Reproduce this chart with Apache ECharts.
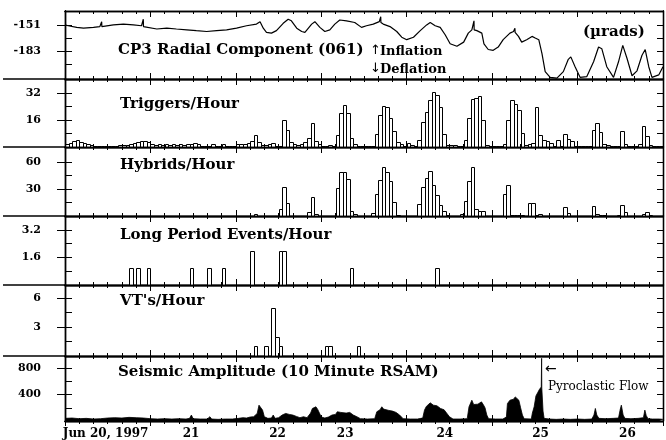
<!DOCTYPE html>
<html><head><meta charset="utf-8">
<script src="https://cdn.jsdelivr.net/npm/echarts@6/dist/echarts.min.js"></script>
<style>
html,body{margin:0;padding:0;background:#fff}
#wrap{position:relative;width:666px;height:440px}
#c,#t{position:absolute;left:0;top:0;width:666px;height:440px}
#t{pointer-events:none}
</style>
</head><body><div id="wrap"><div id="c"></div><div id="t"></div></div>
<script>
// ---------------- DATA (hours since Jun 20, 1997 00:00) ----------------
const dayLabelHours = [11.4, 35.4, 59.7, 78.7, 106.7, 133.6, 158.0];
const dayLabelTexts = ['Jun 20, 1997', '21', '22', '23', '24', '25', '26'];

// CP3 radial tilt (µrad)
const tiltHours = [0,0.9,3.3,5.2,8.0,9.8,10.25,10.3,10.35,10.8,13.6,16.4,19.2,21.5,21.95,22.0,22.05,22.5,25.8,28.6,31.3,34.2,36.9,39.8,42.6,45.4,48.2,51.0,53.8,54.8,55.7,56.6,58.0,59.4,61.3,62.7,63.6,65.1,66.5,67.4,69.3,70.2,71.6,73.0,74.4,75.8,77.2,79.1,81.4,83.3,84.7,86.6,88.3,88.65,88.7,88.75,89.4,91.3,93.2,94.6,96.0,97.9,99.8,101.6,102.6,104.0,105.4,106.8,108.2,110.1,112.0,113.3,114.3,114.85,114.9,114.95,115.7,117.1,117.7,118.9,120.3,121.7,123.1,125.0,126.0,126.35,126.4,126.45,127.4,128.3,129.7,131.2,132.1,133.1,134.0,134.9,136.3,138.2,140.0,141.4,142.1,143.3,144.7,146.6,148.5,149.9,150.8,152.2,154.1,155.5,156.7,157.9,159.3,160.7,162.1,163.0,164.0,164.9,166.8,168];
const tiltValues = [-151,-152,-154,-155,-154,-153,-153,-147,-153,-153,-151,-150,-151,-152,-152,-144,-153,-154,-156,-155,-156,-157,-158,-159,-158,-157,-155,-152,-150,-147,-155,-160,-161,-158,-149,-144,-146,-155,-159,-160,-150,-147,-154,-159,-157,-150,-145,-146,-148,-154,-152,-150,-147,-147,-141,-148,-150,-153,-159,-166,-169,-166,-158,-151,-148,-152,-154,-163,-174,-177,-172,-161,-157,-156,-146,-157,-158,-161,-174,-181,-182,-178,-169,-161,-159,-159,-155,-160,-165,-172,-169,-165,-167,-169,-186,-208,-215,-216,-208,-193,-190,-202,-215,-214,-196,-178,-180,-202,-215,-196,-176,-192,-213,-207,-188,-181,-202,-215,-212,-202];

// Triggers per hour (hour 0..167)
const triggersPerHour = [
 2,2.4,3.6,4.4,3,2.4,1.6,1,0.6,0.8,0.6,0.6,0.8,0.6,0.6,1,1.2,1.4,1.6,2.4,3,3.4,3.4,3,
 1.6,1.2,1.6,1,1.6,1,1.6,1,1.6,1,1.6,2,2.4,1.6,0.6,0.6,0.6,1.6,0.4,0.4,1.6,0.4,0.4,0.6,
 2,2,2,2.4,3.6,7,3,1,1,1.6,2.4,0.6,0.6,16,10.4,3,1.6,1,1.6,3,5.6,14,3.6,1.6,
 0.8,0.8,1,0.8,7,20,25,20,5.6,1.6,0.6,0.4,0.4,0.4,0.4,8,19,24.4,23.6,17,9.6,3,2,0.5,
 2.4,1,0.5,4,14.6,21,28,33,31,24,8,1,1,1,0.5,0.4,4,17,28.4,29,30.6,16,1,0.5,
 0.5,0.4,0.6,2,16,28,25.6,22,8.4,1,2,2.4,24,7,4.4,3.4,2.4,0.5,4,0.5,8,5,3.4,0.5,
 0.4,0.4,0.4,0.5,10,14,9,2,1,0.4,0.4,0.5,9.6,2,0.5,0.4,0.4,1.6,12.4,6.6,1,0.4,0.4,0.4];

// Hybrids per hour (hours with events)
const hybridHours  = [53,60,61,62,63,68,69,70,76,77,78,79,80,81,86,87,88,89,90,91,92,93,99,100,101,102,103,104,105,106,107,111,112,113,114,115,116,117,123,124,125,126,127,128,130,131,132,133,140,141,148,149,150,151,155,156,157,162,163,164];
const hybridCounts = [2,7.4,32,14.8,0.5,4.8,21.5,2,31.5,48.5,48.5,41,5.6,1.8,3.7,24,40,55,49,39,16,1.5,13,32.6,42.6,50,35,23,12,6,1,2.6,17,39,54,7.7,5.5,5.5,24,34,1.5,1,1,1,14,14.6,1,2,9.7,3.7,11.5,2.6,1.5,1.5,1.5,12.6,4.8,2.6,4.4,1];

// Long period events per hour
const lpHours  = [18,20,23,35,40,44,52,60,61,80,104];
const lpCounts = [1,1,1,1,1,1,2,2,2,1,1];

// VT events per hour
const vtHours  = [53,56,58,59,60,73,74,82];
const vtCounts = [1,1,5,2,1,1,1,1];

// RSAM (10 minute), sampled
const rsamHours = [0,2,4,6,8,10,12,14,16,18,20,22,24,26,28,30,32,34,35,35.5,36,38,40,40.7,41.2,43,45,47,48.7,50,51,52,53,54,54.5,55,55.5,56,57,58,58.5,59,60,61,62,63,64,65,66,67,68,69,69.5,70,70.5,71,71.5,72,73,74,75,76,76.5,77,77.5,78,79,80,80.5,81,82,83,85,87,87.6,88.5,89,89.5,90,91,92,93,94,95,97,99,100.5,101,101.5,102,102.6,103,103.5,104,104.5,105,105.5,106.5,107,108,109,111,113,113.5,114,114.3,114.8,115.3,116,116.5,117,117.5,118,118.5,119,121,123,124,124.3,125,125.5,126,126.5,127,127.5,128,128.5,129,131,131.3,131.8,132.3,132.8,133.3,133.8,133.85,133.9,133.95,134.3,134.6,136,138,140,142,144,146,148,148.6,149,149.4,150,152,154,155.5,156,156.3,156.8,157.3,159,161,162.5,162.9,163.3,163.8,165,167,168];
const rsamValues = [40,45,35,40,30,35,45,50,45,55,50,45,35,30,35,30,35,30,40,90,35,30,30,65,30,25,30,30,40,50,45,60,65,115,240,265,165,65,40,45,90,40,50,90,115,100,90,70,50,65,50,120,190,165,215,175,150,60,45,60,90,100,140,165,130,140,120,130,115,90,65,35,30,35,140,170,215,180,155,160,150,130,90,35,30,30,45,165,220,240,275,250,240,260,230,240,190,170,140,65,30,30,35,215,230,315,250,265,255,280,290,250,200,90,35,30,30,60,265,315,340,330,365,340,315,200,90,35,30,120,215,380,430,480,515,520,950,500,150,40,30,25,30,25,30,25,30,90,190,90,40,35,40,45,180,240,90,40,35,40,50,165,80,35,30,30,25];

// Value-axis ticks per panel
const yTicks = [[-151,-167,-183,-199],[8,16,24,32],[15,30,45,60],[0.8,1.6,2.4,3.2],[1.5,3,4.5,6],[200,400,600,800]];
const yLabels = [[-151,-183],[16,32],[30,60],[1.6,3.2],[3,6],[400,800]];
const yRanges = [[-217,-134],[0,40.5],[0,76.7],[0,4],[0,7.35],[0,985]];

// ---------------- LAYOUT ----------------
const LEFT = 65, RIGHT = 3;
const tops = [11, 79, 147, 216, 285, 356];
const bottoms = [79, 147, 216, 285, 356, 421];
const SERIF = 'DejaVu Serif';
const black = '#000';
const grid = tops.map((t,i)=>({left:LEFT, right:RIGHT, top:t, height:bottoms[i]-t}));

// ===== main chart: frames, labels, data =====
(function(){
  const xAxis = [], yAxis = [];
  const AXL = {show:true, onZero:false, lineStyle:{color:black, width:1.3}};
  tops.forEach((t,i)=>{
    ['bottom','top'].forEach(pos=>{
      xAxis.push({type:'value', gridIndex:i, position:pos, min:0, max:168, interval:24,
        axisLine:AXL, axisTick:{show:false}, minorTick:{show:false},
        axisLabel:{show:false}, splitLine:{show:false}});
    });
    yAxis.push({type:'value', gridIndex:i, position:'left', min:yRanges[i][0], max:yRanges[i][1],
      axisLine:AXL, axisTick:{show:false},
      axisLabel:{show:true, customValues:yLabels[i], margin:24, color:black, fontFamily:SERIF, fontWeight:'bold', fontSize:11},
      splitLine:{show:false}});
    yAxis.push({type:'value', gridIndex:i, position:'right', min:yRanges[i][0], max:yRanges[i][1],
      axisLine:AXL, axisTick:{show:false}, axisLabel:{show:false}, splitLine:{show:false}});
  });
  xAxis.push({type:'value', gridIndex:5, position:'bottom', min:0, max:168,
    axisLine:{show:false, onZero:false}, axisTick:{show:false},
    axisLabel:{show:true, customValues:dayLabelHours, margin:7, color:black, fontFamily:SERIF, fontWeight:'bold', fontSize:12,
      formatter:(v)=>{const k=dayLabelHours.indexOf(v); return k>=0?dayLabelTexts[k]:'';}},
    splitLine:{show:false}});

  function barItem(params, api){
    const h = api.value(0), v = api.value(1);
    if(!(v>0)) return null;
    const p0 = api.coord([h,0]), p1 = api.coord([h+1,v]);
    const x0 = Math.round(p0[0])+0.5, x1 = Math.round(p1[0])+0.5;
    const y0 = Math.round(p0[1])+0.5, y1 = Math.round(p1[1])+0.5;
    return {type:'rect', shape:{x:x0, y:y1, width:x1-x0, height:y0-y1},
      style:{fill:'#fff', stroke:black, lineWidth:1}};
  }
  function histo(panel, hours, vals){
    return {type:'custom', xAxisIndex:panel*2, yAxisIndex:panel*2, renderItem:barItem,
      data: hours.map((h,k)=>[h, vals[k]]), encode:{x:0,y:1}, clip:true};
  }
  const series = [
    {type:'line', xAxisIndex:0, yAxisIndex:0, data:tiltHours.map((h,k)=>[h,tiltValues[k]]),
     symbol:'none', lineStyle:{color:black, width:1.2}},
    histo(1, triggersPerHour.map((v,k)=>k), triggersPerHour),
    histo(2, hybridHours, hybridCounts),
    histo(3, lpHours, lpCounts),
    histo(4, vtHours, vtCounts),
    {type:'line', xAxisIndex:10, yAxisIndex:10, data:rsamHours.map((h,k)=>[h,rsamValues[k]]),
     symbol:'none', lineStyle:{color:black, width:0.8}, areaStyle:{color:black, opacity:1}}
  ];
  function txt(text, x, y, font){
    return {type:'text', x:x, y:y, z:10, style:{text:text, font:font, fill:black, verticalAlign:'middle', align:'left'}};
  }
  const TITLE = 'bold 15px "DejaVu Serif"';
  const graphic = [
    txt('CP3 Radial Component (061)', 118, 50, TITLE),
    txt('\u2191', 370, 51, '13px "DejaVu Sans"'),
    txt('Inflation', 380, 52, 'bold 13px "DejaVu Serif"'),
    txt('\u2193', 370, 69, '13px "DejaVu Sans"'),
    txt('Deflation', 380, 70, 'bold 13px "DejaVu Serif"'),
    txt('(\u00b5rads)', 583, 32, TITLE),
    txt('Triggers/Hour', 120, 104, TITLE),
    txt('Hybrids/Hour', 120, 165, TITLE),
    txt('Long Period Events/Hour', 120, 235, TITLE),
    txt("VT's/Hour", 120, 301, TITLE),
    txt('Seismic Amplitude (10 Minute RSAM)', 118, 372, TITLE),
    txt('\u2190', 545, 369, '14px "DejaVu Sans"'),
    txt('Pyroclastic Flow', 548, 387, '12px "DejaVu Serif"')
  ];
  bottoms.slice(0,5).forEach(y=>{
    graphic.push({type:'line', z:10, shape:{x1:3, y1:y, x2:LEFT, y2:y}, style:{stroke:black, lineWidth:1.3}});
  });
  try {
    const chart = echarts.init(document.getElementById('c'));
    chart.setOption({animation:false, backgroundColor:'#fff', grid, xAxis, yAxis, series, graphic});
  } catch(e) { console.error(e); }
})();

// ===== overlay chart: axis ticks only (transparent) =====
(function(){
  const xAxis = [], yAxis = [];
  const TL = {color:black, width:1};
  const AXL = {show:true, onZero:false, lineStyle:{color:black, width:1.3}};
  tops.forEach((t,i)=>{
    ['bottom','top'].forEach(pos=>{
      xAxis.push({type:'value', gridIndex:i, position:pos, min:0, max:168, interval:24,
        axisLine:AXL,
        axisTick:{show:true, inside:true, length:6, lineStyle:TL},
        minorTick:{show:true, splitNumber:6, length:3, lineStyle:TL},
        axisLabel:{show:false}, splitLine:{show:false}, minorSplitLine:{show:false}});
    });
    yAxis.push({type:'value', gridIndex:i, position:'left', min:yRanges[i][0], max:yRanges[i][1],
      axisLine:AXL, axisTick:{show:true, inside:true, length:7, customValues:yTicks[i], lineStyle:TL},
      axisLabel:{show:false}, splitLine:{show:false}});
    yAxis.push({type:'value', gridIndex:i, position:'left', min:yRanges[i][0], max:yRanges[i][1],
      axisLine:AXL, axisTick:{show:true, inside:false, length:8, customValues:yLabels[i], lineStyle:TL},
      axisLabel:{show:false}, splitLine:{show:false}});
    yAxis.push({type:'value', gridIndex:i, position:'right', min:yRanges[i][0], max:yRanges[i][1],
      axisLine:AXL, axisTick:{show:true, inside:true, length:6, customValues:yTicks[i], lineStyle:TL},
      axisLabel:{show:false}, splitLine:{show:false}});
  });
  // outward ticks below the last panel
  xAxis.push({type:'value', gridIndex:5, position:'bottom', min:0, max:168, interval:24,
    axisLine:AXL,
    axisTick:{show:true, inside:false, length:5, lineStyle:TL},
    minorTick:{show:true, splitNumber:6, length:3, lineStyle:TL},
    axisLabel:{show:false}, splitLine:{show:false}, minorSplitLine:{show:false}});
  try {
    const over = echarts.init(document.getElementById('t'));
    over.setOption({animation:false, backgroundColor:'transparent', grid, xAxis, yAxis, series:[]});
  } catch(e) { console.error(e); }
})();
</script></body></html>
